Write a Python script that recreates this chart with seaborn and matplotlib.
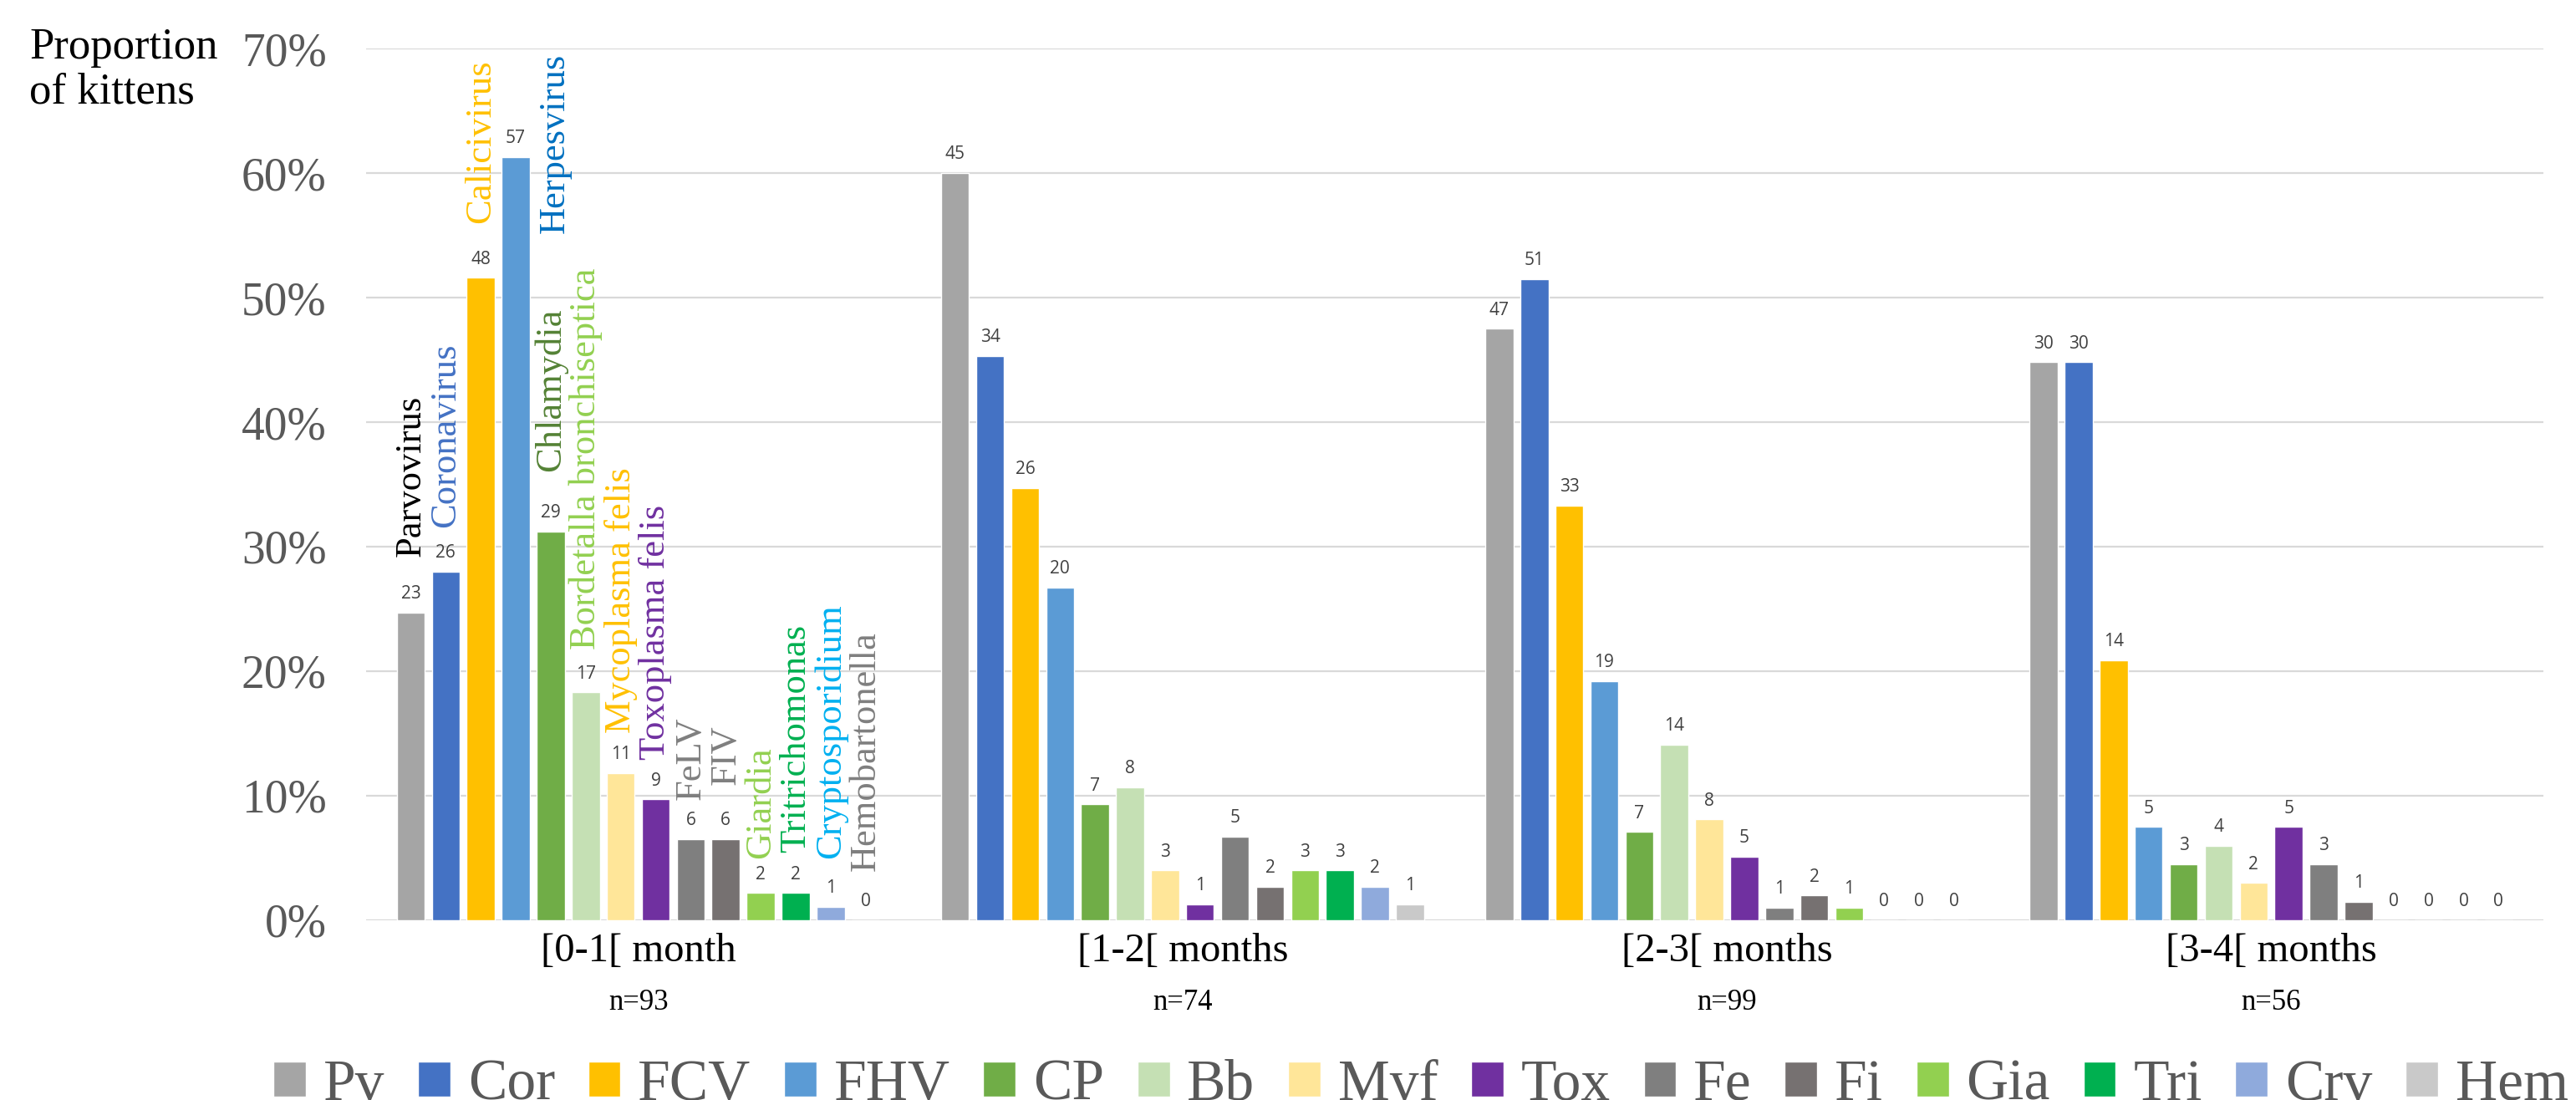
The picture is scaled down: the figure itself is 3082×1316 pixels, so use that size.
import numpy as np
import pandas as pd
import matplotlib
matplotlib.use("Agg")
import matplotlib.pyplot as plt
import matplotlib.transforms as mtransforms
import seaborn as sns

# age groups and group sizes
groups = ["[0-1[ month", "[1-2[ months", "[2-3[ months", "[3-4[ months"]
group_n = ["n=93", "n=74", "n=99", "n=56"]

# pathogens: legend code, full name, bar colour, name colour
codes = ["Pv", "Cor", "FCV", "FHV", "CP", "Bb", "Mvf", "Tox", "Fe", "Fi", "Gia", "Tri", "Crv", "Hem"]
names = ["Parvovirus", "Coronavirus", "Calicivirus", "Herpesvirus", "Chlamydia",
         "Bordetalla bronchiseptica", "Mycoplasma felis", "Toxoplasma felis", "FeLV", "FIV",
         "Giardia", "Tritrichomonas", "Cryptosporidium", "Hemobartonella"]
bar_colors = ["#A5A5A5", "#4472C4", "#FFC000", "#5B9BD5", "#70AD47", "#C5E0B4", "#FFE699",
              "#7030A0", "#7F7F7F", "#767171", "#92D050", "#00B050", "#8FAADC", "#C9C9C9"]
name_colors = ["#000000", "#4472C4", "#FFC000", "#0070C0", "#548235", "#92D050", "#FFC000",
               "#7030A0", "#7F7F7F", "#7F7F7F", "#92D050", "#00B050", "#00B0F0", "#7F7F7F"]

# proportion of kittens (%) per pathogen
pct_0_1 = [24.7, 28.0, 51.6, 61.3, 31.2, 18.3, 11.8, 9.7, 6.5, 6.5, 2.2, 2.2, 1.1, 0.0]
pct_1_2 = [60.0, 45.3, 34.7, 26.7, 9.3, 10.7, 4.0, 1.3, 6.7, 2.7, 4.0, 4.0, 2.7, 1.3]
pct_2_3 = [47.5, 51.5, 33.3, 19.2, 7.1, 14.1, 8.1, 5.1, 1.0, 2.0, 1.0, 0.0, 0.0, 0.0]
pct_3_4 = [44.8, 44.8, 20.9, 7.5, 4.5, 6.0, 3.0, 7.5, 4.5, 1.5, 0.0, 0.0, 0.0, 0.0]

# number of positive kittens (bar labels)
cnt_0_1 = [23, 26, 48, 57, 29, 17, 11, 9, 6, 6, 2, 2, 1, 0]
cnt_1_2 = [45, 34, 26, 20, 7, 8, 3, 1, 5, 2, 3, 3, 2, 1]
cnt_2_3 = [47, 51, 33, 19, 7, 14, 8, 5, 1, 2, 1, 0, 0, 0]
cnt_3_4 = [30, 30, 14, 5, 3, 4, 2, 5, 3, 1, 0, 0, 0, 0]

# layout tweaks for the pathogen names over the first group (pixels)
name_lift = [67, 53, 65, -91, 72, 51, 48, 47, 47, 65, 41, 48, 58, 59]
name_dx = [0, 0, 0, 47, 0, 0, 0, 0, 0, 0, 0, 0, 0, 0]

pcts = [pct_0_1, pct_1_2, pct_2_3, pct_3_4]
cnts = [cnt_0_1, cnt_1_2, cnt_2_3, cnt_3_4]
rows = []
for g, p, c in zip(groups, pcts, cnts):
    for code, val, n in zip(codes, p, c):
        rows.append({"group": g, "code": code, "prop": val / 100, "count": n})
df = pd.DataFrame(rows)

sns.set_style("white")
plt.rcParams["font.family"] = ["Liberation Serif", "DejaVu Serif"]

fig = plt.figure(figsize=(30.82, 13.16), dpi=100)
ax = fig.add_axes([0.1421, 0.1634, 0.8452, 0.7925])

sns.barplot(data=df, x="group", y="prop", hue="code", hue_order=codes,
            palette=bar_colors, saturation=1, width=0.9, gap=0.2,
            order=groups, ax=ax, errorbar=None)

ax.set_ylim(0, 0.7)
ax.set_yticks(np.arange(0, 0.71, 0.1))
ax.set_yticklabels([f"{int(round(v * 100))}%" for v in np.arange(0, 0.71, 0.1)])
ax.yaxis.grid(True, color="#D9D9D9", linewidth=1.6)
ax.set_axisbelow(True)
for s in ax.spines.values():
    s.set_visible(False)
ax.tick_params(axis="y", length=0, pad=34, labelsize=40, labelcolor="#595959")
ax.tick_params(axis="x", length=0, pad=11, labelsize=35, labelcolor="#000000")
ax.set_xlabel("")
ax.set_ylabel("")

pt = 72 / 100
for i, cont in enumerate(ax.containers):
    for j, bar in enumerate(cont):
        x = bar.get_x() + bar.get_width() / 2
        h = bar.get_height()
        ax.annotate(str(cnts[j][i]), (x, h), xytext=(0, 12), textcoords="offset points",
                    ha="center", va="baseline", fontsize=15, color="#404040",
                    family=["Open Sans", "DejaVu Sans"])
        if j == 0:
            ax.annotate(names[i], (x, h), xytext=(name_dx[i] * pt, name_lift[i] * pt),
                        textcoords="offset points", rotation=90, ha="center", va="bottom",
                        fontsize=32, color=name_colors[i])

trans = mtransforms.blended_transform_factory(ax.transData, fig.transFigure)
for k, n in enumerate(group_n):
    ax.text(k, 0.082, n, transform=trans, ha="center", va="baseline", fontsize=25, color="#000000")

fig.text(0.0115, 0.975, "Proportion\nof kittens", ha="left", va="top", fontsize=38,
         color="#000000", linespacing=1.15)

handles, labels = ax.get_legend_handles_labels()
ax.get_legend().remove()
leg = fig.legend(handles, labels, ncol=14, loc="center", bbox_to_anchor=(0.5516, 0.013),
                 frameon=False, fontsize=50, handlelength=0.56, handleheight=0.56,
                 handletextpad=0.3, columnspacing=0.57, borderpad=0)
for t in leg.get_texts():
    t.set_color("#595959")

fig.savefig("out.png", dpi=100)
